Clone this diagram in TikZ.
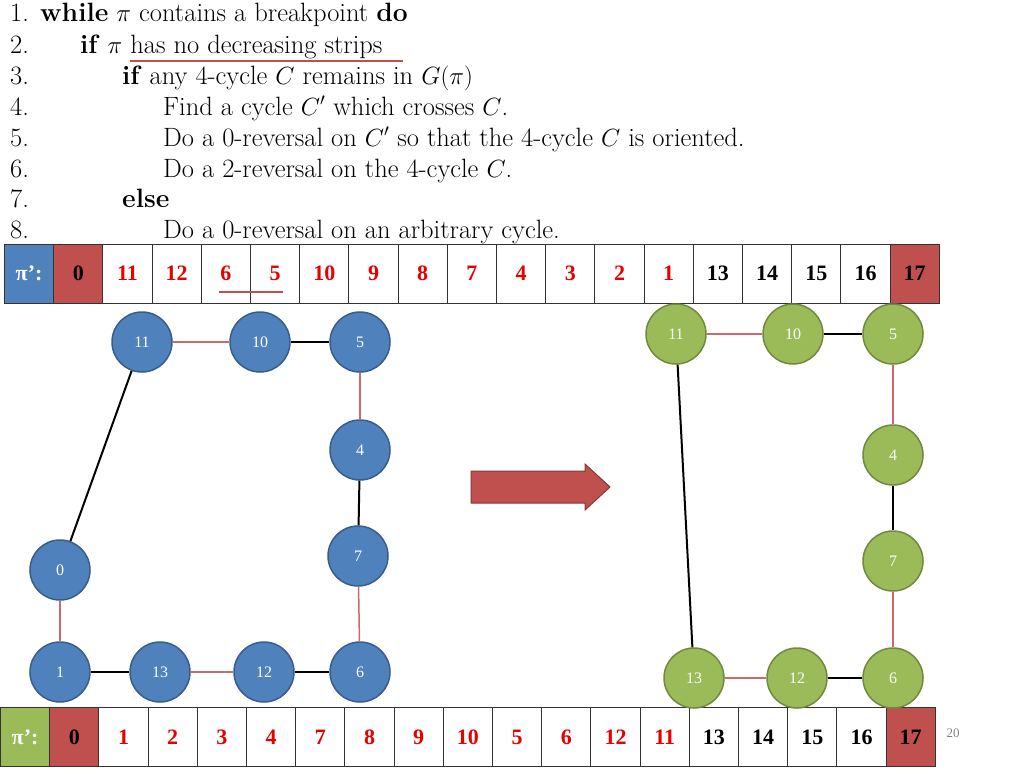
\documentclass[tikz,border=0pt]{standalone}
\usepackage{fontspec}
\newfontfamily\tnr{Liberation Serif}
\definecolor{bl}{RGB}{79,129,189}
\definecolor{bld}{RGB}{56,93,138}
\definecolor{gr}{RGB}{155,187,89}
\definecolor{grd}{RGB}{113,137,63}
\definecolor{rc}{RGB}{192,80,77}
\definecolor{nr}{RGB}{230,0,0}
\tikzset{
 cell/.style={draw=black!80,line width=1pt,minimum width=49.2pt,minimum height=59pt,anchor=west,inner sep=0pt,font=\tnr\fontsize{22}{22}\selectfont\bfseries},
 bn/.style={circle,fill=bl,draw=bld,line width=1.5pt,minimum size=60pt,inner sep=0pt,text=white,font=\tnr\fontsize{16}{16}\selectfont},
 gn/.style={bn,fill=gr,draw=grd},
 re/.style={draw=rc!85,line width=1.5pt},
 be/.style={draw=black,line width=2pt},
 alg/.style={anchor=base west,inner sep=0pt,font=\fontsize{26.5}{28}\selectfont}
}
\begin{document}
\begin{tikzpicture}[x=1pt,y=-1pt]
\useasboundingbox (0,0) rectangle (1024,768);
% algorithm
\node[alg] (l1n) at (10,22) {1.};
\node[alg] (l1) at (40,22) {\textbf{while} $\pi$ contains a breakpoint \textbf{do}};
\node[alg] (l2n) at (10,53) {2.};
\node[alg] (l2) at (80,53) {\textbf{if} $\pi$ has no decreasing strips};
\node[alg] (l3n) at (10,84) {3.};
\node[alg] (l3) at (122,84) {\textbf{if} any 4-cycle $C$ remains in $G(\pi)$};
\node[alg] (l4n) at (10,115) {4.};
\node[alg] (l4) at (163,115) {Find a cycle $C'$ which crosses $C$.};
\node[alg] (l5n) at (10,146) {5.};
\node[alg] (l5) at (163,146) {Do a 0-reversal on $C'$ so that the 4-cycle $C$ is oriented.};
\node[alg] (l6n) at (10,177) {6.};
\node[alg] (l6) at (163,177) {Do a 2-reversal on the 4-cycle $C$.};
\node[alg] (l7n) at (10,207) {7.};
\node[alg] (l7) at (122,207) {\textbf{else}};
\node[alg] (l8n) at (10,238) {8.};
\node[alg] (l8) at (163,238) {Do a 0-reversal on an arbitrary cycle.};
\draw[rc,line width=1.5pt] (130,61) -- (403,61);
% top table
\node[cell,fill=bl,text=white] (t0) at (4,273.5) {π’:};
\foreach \v [count=\i] in {0,11,12,6,5,10,9,8,7,4,3,2,1,13,14,15,16,17}{
  \pgfmathsetmacro{\xx}{4+\i*49.2}
  \ifnum\i=1 \node[cell,fill=rc,text=black] (t\i) at (\xx,273.5) {\v};
  \else\ifnum\i=18 \node[cell,fill=rc,text=black] (t\i) at (\xx,273.5) {\v};
  \else\ifnum\i>13 \node[cell,text=black] (t\i) at (\xx,273.5) {\v};
  \else \node[cell,text=nr] (t\i) at (\xx,273.5) {\v};
  \fi\fi\fi
}
\draw[rc,line width=1.5pt] (219,292) -- (283,292);
% bottom table
\node[cell,fill=gr,text=white] (b0) at (0,737) {π’:};
\foreach \v [count=\i] in {0,1,2,3,4,7,8,9,10,5,6,12,11,13,14,15,16,17}{
  \pgfmathsetmacro{\xx}{\i*49.2}
  \ifnum\i=1 \node[cell,fill=rc,text=black] (b\i) at (\xx,737) {\v};
  \else\ifnum\i=18 \node[cell,fill=rc,text=black] (b\i) at (\xx,737) {\v};
  \else\ifnum\i>13 \node[cell,text=black] (b\i) at (\xx,737) {\v};
  \else \node[cell,text=nr] (b\i) at (\xx,737) {\v};
  \fi\fi\fi
}
\node[text=gray,font=\tnr\fontsize{13}{13}\selectfont] (pg) at (953,733) {20};
% left graph
\node[bn] (a11) at (142,342) {11};
\node[bn] (a10) at (260,342) {10};
\node[bn] (a5) at (360,342) {5};
\node[bn] (a4) at (360,450) {4};
\node[bn] (a7) at (358,556) {7};
\node[bn] (a6) at (360,672) {6};
\node[bn] (a12) at (264,672) {12};
\node[bn] (a13) at (160,672) {13};
\node[bn] (a1) at (60,672) {1};
\node[bn] (a0) at (60,570) {0};
\draw[re] (a11)--(a10); \draw[be] (a10)--(a5); \draw[re] (a5)--(a4);
\draw[be] (a4)--(a7); \draw[re] (a7)--(a6); \draw[be] (a6)--(a12);
\draw[re] (a12)--(a13); \draw[be] (a13)--(a1); \draw[re] (a1)--(a0);
\draw[be] (a0)--(a11);
% arrow
\filldraw[fill=rc,draw=rc!70!black,line width=1pt] (471,471) -- (585,471) -- (585,464) -- (610,487) -- (585,510) -- (585,503) -- (471,503) -- cycle;
% right graph
\node[gn] (c11) at (676,334) {11};
\node[gn] (c10) at (793,334) {10};
\node[gn] (c5) at (893,334) {5};
\node[gn] (c4) at (893,455) {4};
\node[gn] (c7) at (893,561) {7};
\node[gn] (c6) at (893,678) {6};
\node[gn] (c12) at (797,678) {12};
\node[gn] (c13) at (694,678) {13};
\draw[re] (c11)--(c10); \draw[be] (c10)--(c5); \draw[re] (c5)--(c4);
\draw[be] (c4)--(c7); \draw[re] (c7)--(c6); \draw[be] (c6)--(c12);
\draw[re] (c12)--(c13); \draw[be] (c13)--(c11);
\end{tikzpicture}
\end{document}
